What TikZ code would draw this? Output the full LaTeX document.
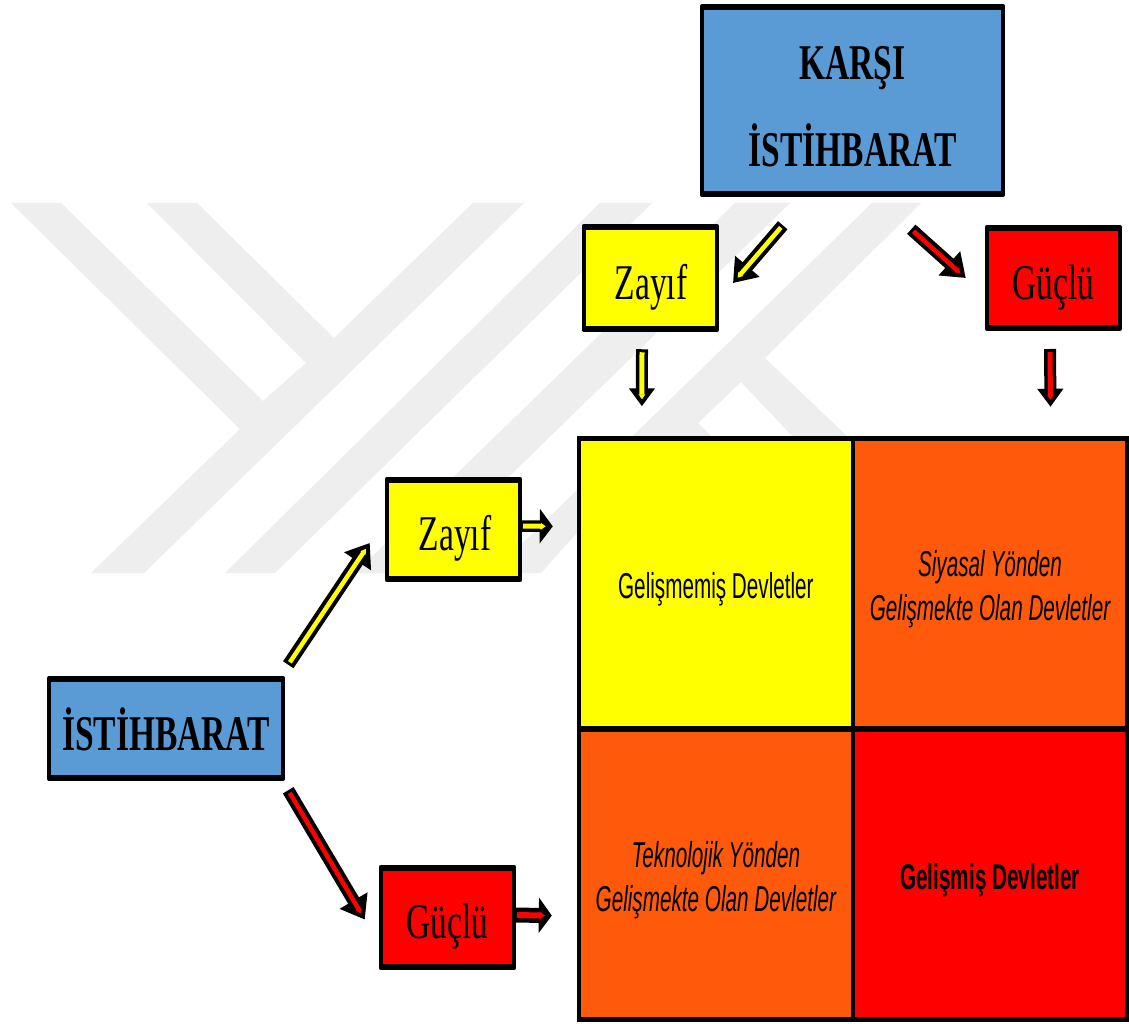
\documentclass[tikz,border=0pt]{standalone}
\usepackage{fontspec}
\usetikzlibrary{arrows.meta,calc}
\newfontfamily\titlefont[FakeStretch=0.67]{Liberation Serif}
\newfontfamily\boxfont[FakeStretch=0.67]{Liberation Serif}
\newfontfamily\cellfont[FakeStretch=0.575]{Liberation Sans}
\definecolor{mark}{HTML}{EEEEEE}
\definecolor{bluebox}{HTML}{5B9BD5}
\definecolor{orangecell}{HTML}{FF5A0C}
\definecolor{yellowfill}{HTML}{FFFF00}
\definecolor{redfill}{HTML}{FF0000}
\tikzset{
  barred/.style={path picture={
    \fill[black] (path picture bounding box.north west) rectangle ($(path picture bounding box.north east)+(0,#1)$);
    \fill[black] (path picture bounding box.south west) rectangle ($(path picture bounding box.south east)+(0,-#1)$);}},
  markshape/.style={fill=mark,draw=none},
  boxbase/.style={draw=black,line width=4pt,line join=round,barred=3.8,outer sep=0pt,inner sep=0pt,align=center,text=black},
  titlebox/.style={boxbase,fill=bluebox,font=\titlefont\bfseries\fontsize{50}{87}\selectfont},
  smallbox/.style={boxbase,minimum width=133pt,minimum height=101.5pt,text height=53pt,text depth=11pt,font=\boxfont\fontsize{50}{52}\selectfont},
  yellowbox/.style={smallbox,fill=yellowfill},
  redbox/.style={smallbox,fill=redfill},
  cellbox/.style={draw=black,line width=3.5pt,barred=3.05,outer sep=0pt,inner sep=0pt,align=center,text=black,font=\cellfont\fontsize{36}{44}\selectfont},
  arrowouter/.style n args={3}{line width=#3pt,draw=black,-{Triangle[length=#1pt,width=#2pt,fill=black]}},
  arrowinner/.style n args={2}{line width=#2pt,draw=#1,shorten >=7pt,shorten <=3pt,-{Triangle[length=5pt,width=#2pt+1.5pt,fill=#1]}}
}
\newcommand{\cellstrut}{\rule{0pt}{37pt}}
\newcommand{\blockarrow}[7]{%
  \draw[arrowouter={#2}{#3}{#4}] #6 -- #7;
  \draw[arrowinner={#1}{#5}] #6 -- #7;
}
\begin{document}
\begin{tikzpicture}[x=1pt,y=-1pt]
\useasboundingbox (0,0) rectangle (1129,1024);
\fill[white] (0,0) rectangle (1129,1024);
% watermark
\fill[markshape] (11,203) -- (61,203) -- (263,401) -- (306,363) -- (147,203) -- (197,203) -- (334,338) -- (473,203) -- (524,203) -- (144,573) -- (91,573) -- (240,429) -- cycle;
\fill[markshape] (600,203) -- (652,203) -- (275,573) -- (225,573) -- cycle;
\fill[markshape] (735,203) -- (790,203) -- (410,573) -- (355,573) -- cycle;
\fill[markshape] (872,203) -- (921,203) -- (765,358) -- (851,440) -- (796,440) -- (741,382) -- (698,423) -- (715,440) -- (660,440) -- (541,573) -- (492,573) -- cycle;
% boxes
\node[titlebox,minimum width=301pt,minimum height=189pt] (karsi) at (852.5,100.5) {\rule{0pt}{46pt}KARŞI\\İSTİHBARAT};
\node[yellowbox,minimum height=104pt] (ztop) at (650,278) {\hspace{2pt}Zayıf};
\node[redbox] (gtop) at (1053.5,278) {Güçlü};
\node[yellowbox] (zleft) at (453.5,529.5) {\hspace{3pt}Zayıf};
\node[redbox] (gleft) at (447.5,917.5) {Güçlü};
\node[titlebox,minimum width=234pt,minimum height=101pt] (ist) at (166,728.5) {\rule{0pt}{44pt}İSTİHBARAT};
% matrix
\node[cellbox,fill=yellowfill,minimum width=274.25pt,minimum height=291.25pt] (tl) at (715.9,583.4) {\cellstrut Gelişmemiş Devletler};
\node[cellbox,fill=orangecell,minimum width=274pt,minimum height=291.25pt] (tr) at (990,583.4) {\cellstrut\itshape Siyasal Yönden\\\itshape Gelişmekte Olan Devletler};
\node[cellbox,fill=orangecell,minimum width=274.25pt,minimum height=291.25pt] (bl) at (715.9,874.6) {\cellstrut\itshape Teknolojik Yönden\\\itshape Gelişmekte Olan Devletler};
\node[cellbox,fill=redfill,minimum width=274pt,minimum height=291.25pt] (br) at (990,874.6) {\cellstrut\bfseries Gelişmiş Devletler};
% arrows
\blockarrow{yellowfill}{22}{31}{12.5}{4.5}{($(karsi.south west)+(80.75,30.25)$)}{($(ztop.east)+(16.5,5)$)}
\blockarrow{redfill}{22}{31}{12.5}{4.5}{($(karsi.south east)+(-91.75,34.25)$)}{($(gtop.west)+(-21.25,0)$)}
\blockarrow{yellowfill}{18}{25}{12}{5}{($(ztop.south)+(-8,19.25)$)}{($(tl.north)+(-74,-31.5)$)}
\blockarrow{redfill}{18}{25}{12}{5}{($(gtop.south)+(-3.5,20.25)$)}{($(tr.north)+(60.5,-31)$)}
\blockarrow{yellowfill}{13}{34}{11.5}{5}{($(zleft.east)+(0,-3.5)$)}{($(tl.west)+(-26,-57)$)}
\blockarrow{redfill}{13}{35}{15}{6}{($(gleft.east)+(0,-2.5)$)}{($(bl.west)+(-27,41)$)}
\blockarrow{yellowfill}{22}{31}{12.5}{4.5}{($(ist.north east)+(5.25,-13.25)$)}{($(zleft.west)+(-17.25,13.5)$)}
\blockarrow{redfill}{22}{31}{12.5}{4.5}{($(ist.south east)+(5.25,11.25)$)}{($(gleft.west)+(-16.25,2)$)}
\end{tikzpicture}
\end{document}
